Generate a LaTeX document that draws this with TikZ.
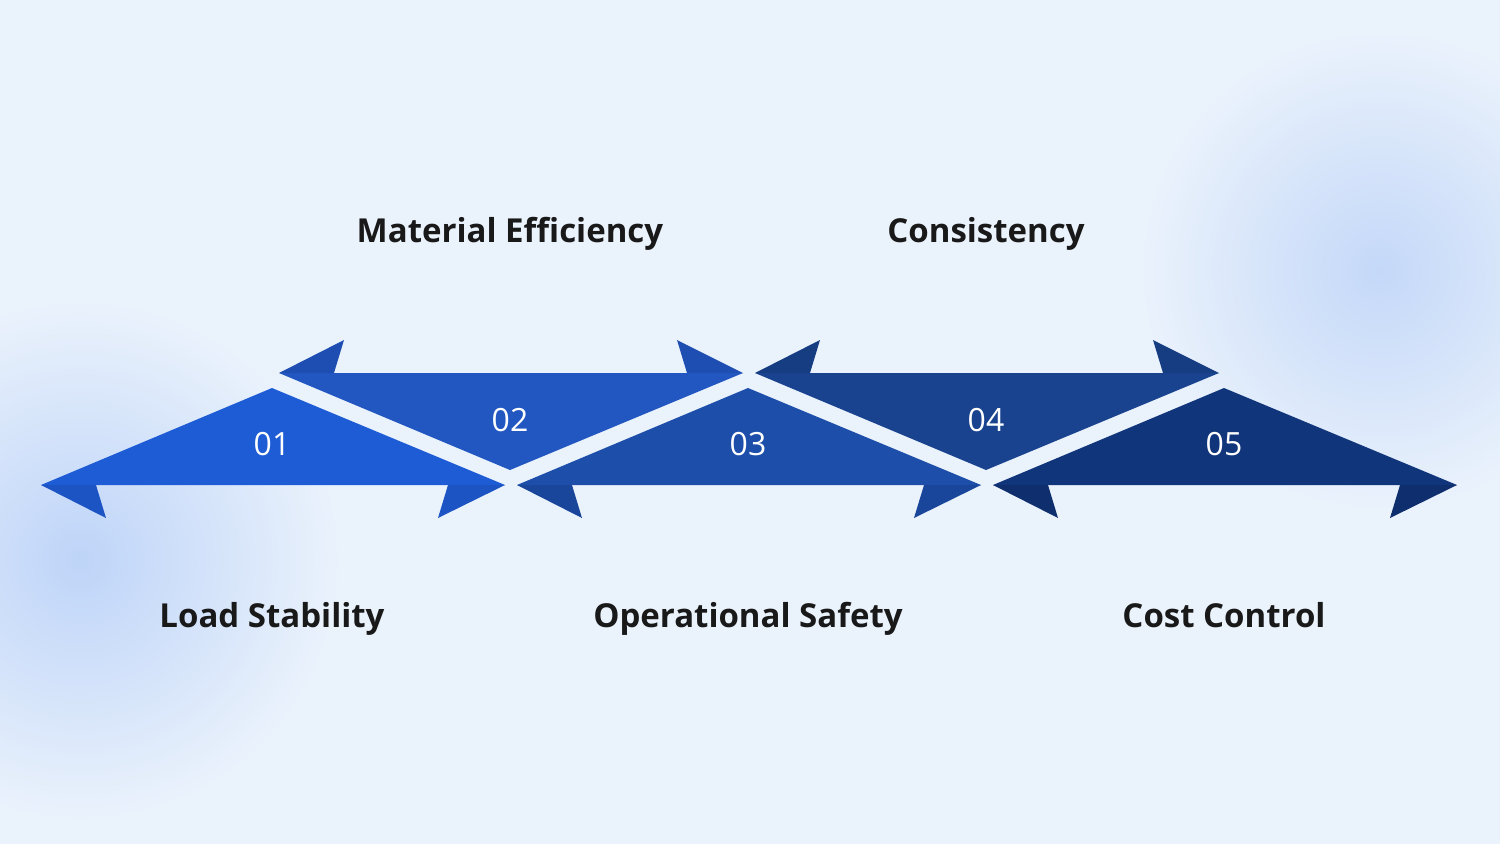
\documentclass[tikz,border=0pt]{standalone}
\usepackage{fontspec}
\setmainfont{Open Sans}
\begin{document}
\begin{tikzpicture}[x=1pt,y=-1pt,
  lbl/.style={font=\fontsize{33}{38}\selectfont\bfseries,text=black!90,anchor=base,inner sep=0},
  num/.style={font=\fontsize{32}{36}\selectfont,text=white,anchor=base,inner sep=0}]
\useasboundingbox (0,0) rectangle (1500,844);
\fill[color={rgb,255:red,234;green,242;blue,252}] (0,0) rectangle (1500,844);
\begin{scope}
\clip (0,0) rectangle (1500,844);
\shade[inner color={rgb,255:red,190;green,212;blue,248},outer color={rgb,255:red,234;green,242;blue,252}] (80,560) circle (260);
\shade[inner color={rgb,255:red,196;green,216;blue,248},outer color={rgb,255:red,234;green,242;blue,252}] (1380,270) circle (240);
\end{scope}
\foreach \i/\cx/\c/\d in {0/272/30 92 214/28 84 196, 2/748/29 79 170/25 70 155, 4/1224/17 53 122/14 46 110}{
  \definecolor{cc}{RGB}{\c}\definecolor{dd}{RGB}{\d}
  \fill[cc] (\cx,388) -- (\cx+233,485) -- (\cx-231,485) -- cycle;
  \fill[dd] (\cx-231,485) -- (\cx-166,518) -- (\cx-176,485) -- cycle;
  \fill[dd] (\cx+233,485) -- (\cx+166,518) -- (\cx+176,485) -- cycle;
}
\foreach \cx/\c/\d in {510/34 87 194/30 78 178, 986/25 67 143/22 60 130}{
  \definecolor{cc}{RGB}{\c}\definecolor{dd}{RGB}{\d}
  \fill[cc] (\cx,470) -- (\cx+233,373) -- (\cx-231,373) -- cycle;
  \fill[dd] (\cx-231,373) -- (\cx-166,340) -- (\cx-176,373) -- cycle;
  \fill[dd] (\cx+233,373) -- (\cx+167,340) -- (\cx+177,373) -- cycle;
}
\node[num] (n1) at (272,455) {01};
\node[num] (n2) at (510,431) {02};
\node[num] (n3) at (748,455) {03};
\node[num] (n4) at (986,431) {04};
\node[num] (n5) at (1224,455) {05};
\node[lbl] (l2) at (510,242) {Material Efficiency};
\node[lbl] (l4) at (986,242) {Consistency};
\node[lbl] (l1) at (272,627) {Load Stability};
\node[lbl] (l3) at (748,627) {Operational Safety};
\node[lbl] (l5) at (1224,627) {Cost Control};
\end{tikzpicture}
\end{document}
